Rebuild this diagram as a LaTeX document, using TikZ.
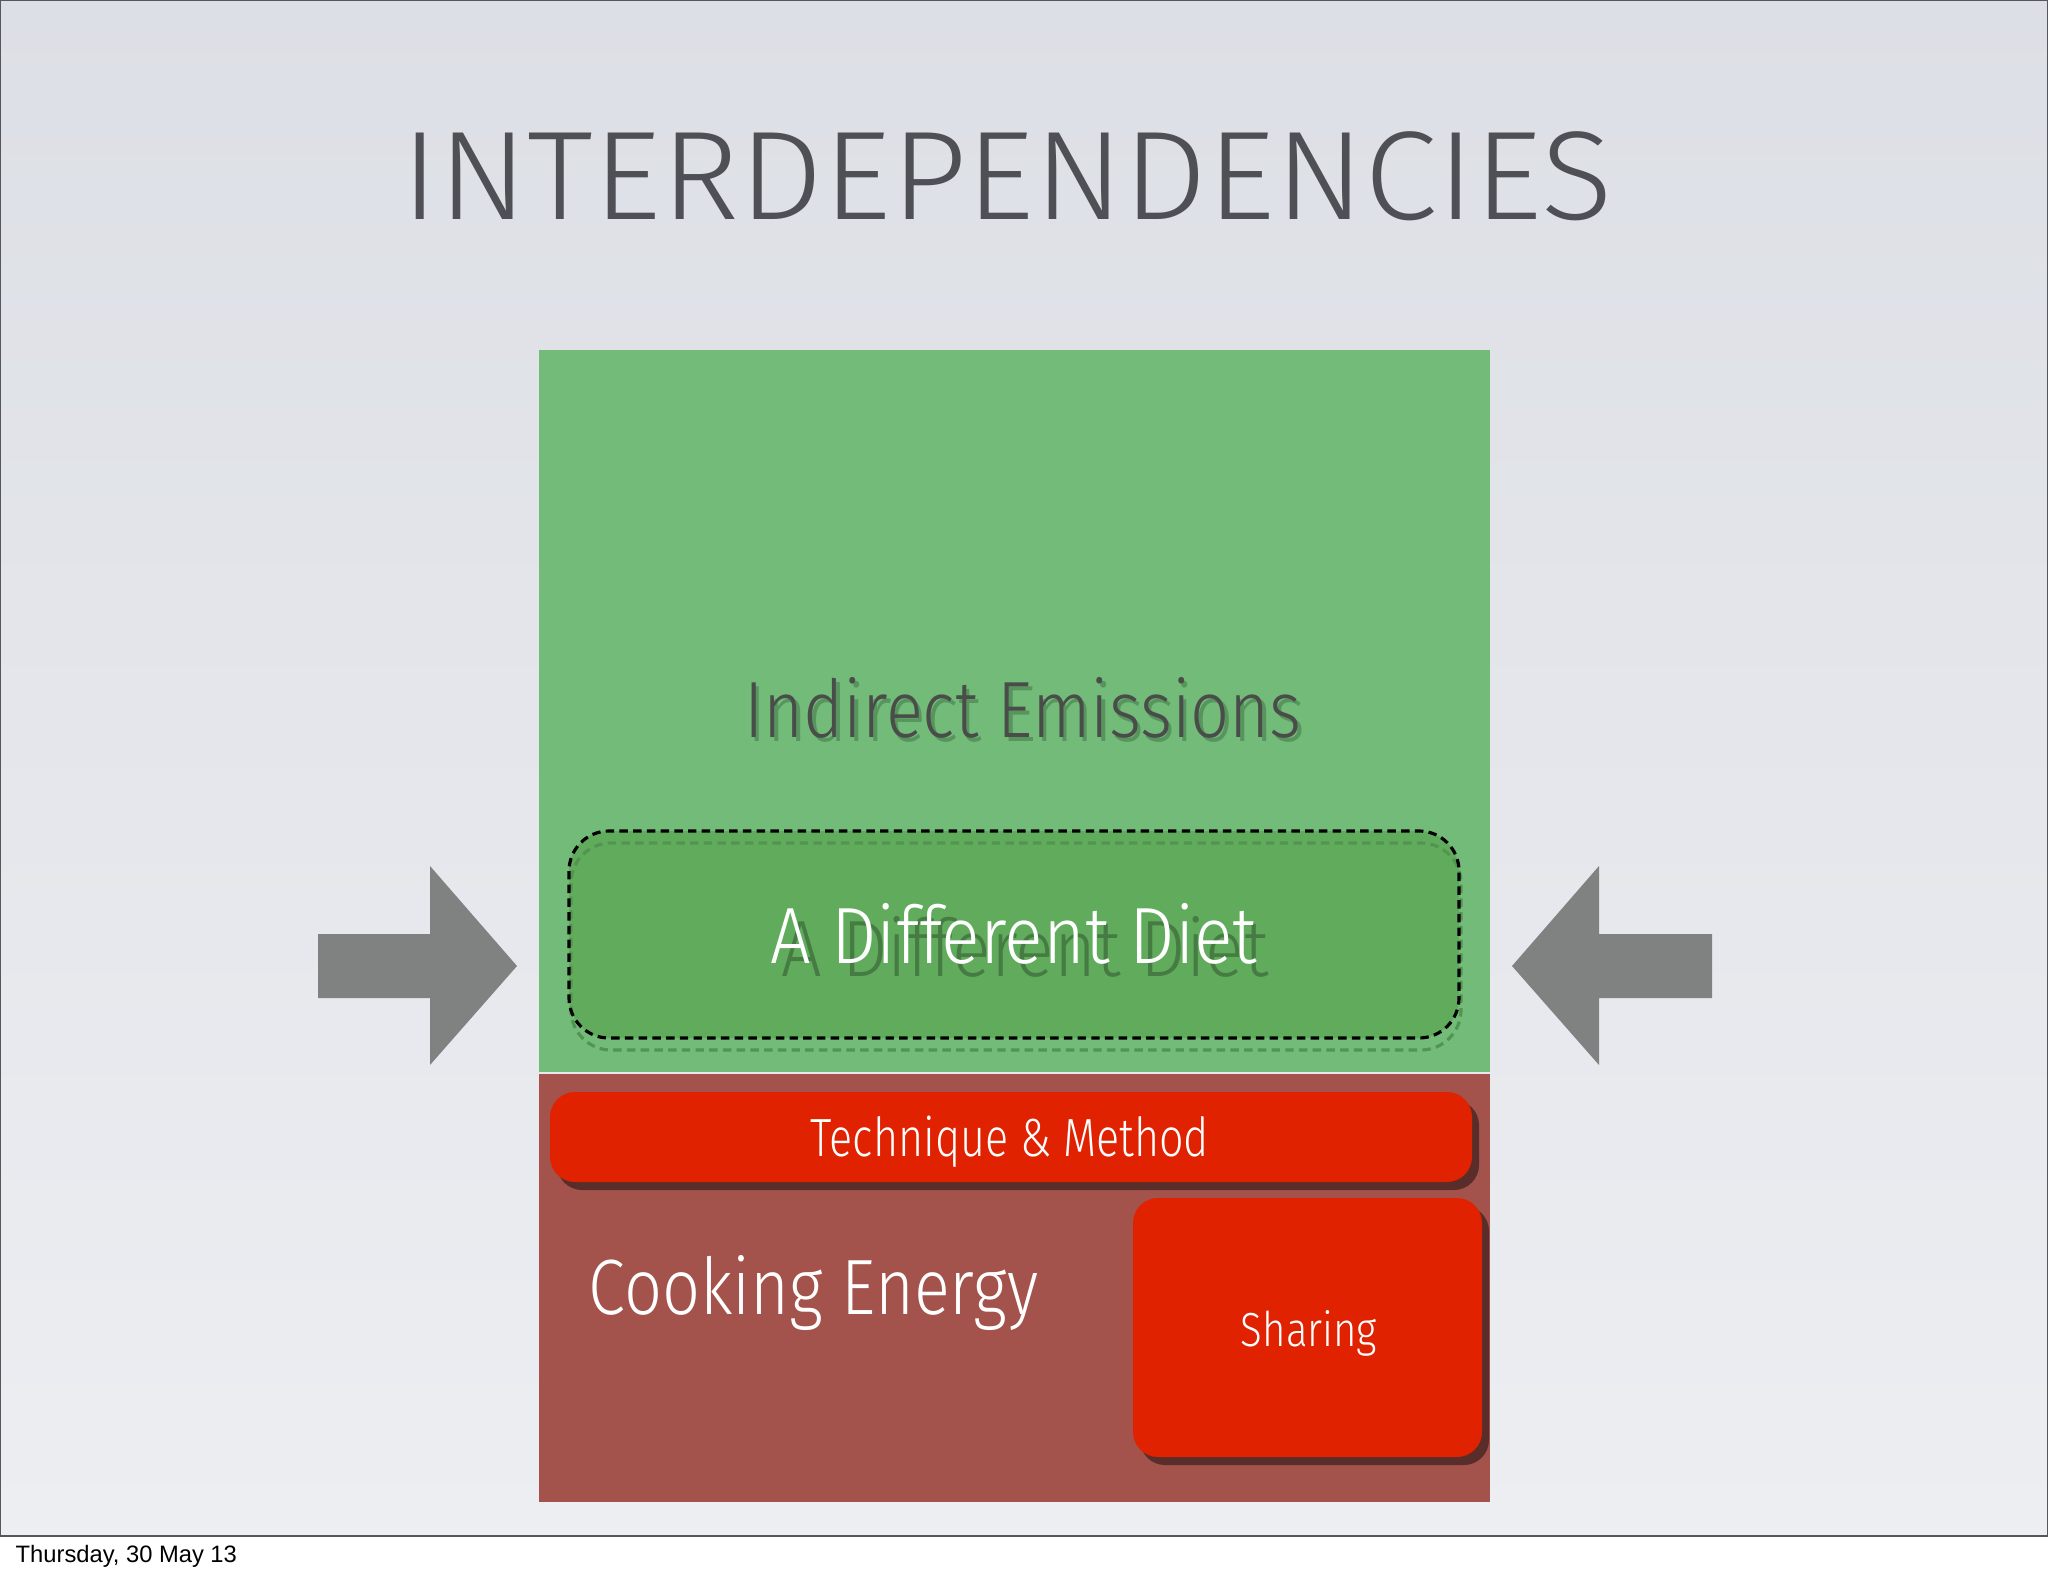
\documentclass[tikz,border=0pt]{standalone}
\usepackage{fontspec}
\setmainfont{Fira Sans Light}
\newfontfamily\datefont{Liberation Sans}
\usetikzlibrary{shadows}

\definecolor{slidetop}{RGB}{220,223,229}
\definecolor{slidebottom}{RGB}{237,238,242}
\definecolor{frameline}{RGB}{85,87,90}
\definecolor{titlegray}{RGB}{78,80,85}
\definecolor{leafgreen}{RGB}{114,187,120}
\definecolor{dietgreen}{RGB}{97,172,92}
\definecolor{dietshadow}{RGB}{70,124,68}
\definecolor{emisgray}{RGB}{74,76,74}
\definecolor{emisshadow}{RGB}{88,148,94}
\definecolor{brickred}{RGB}{163,83,75}
\definecolor{flamered}{RGB}{224,34,0}
\definecolor{arrowgray}{RGB}{128,130,129}

\newcommand{\pt}[1]{\fontsize{#1}{#1}\selectfont}
\newcommand{\squeeze}[2]{\scalebox{#1}[1]{#2}}
\newcommand{\castshadow}[4]{\leavevmode\rlap{\kern#2\raisebox{-#3}{\textcolor{#1}{#4}}}#4}

\begin{document}
\begin{tikzpicture}[x=0.01cm,y=-0.01cm,
  txt/.style={inner sep=0pt,anchor=base},
  redbox/.style={fill=flamered,rounded corners=0.25cm,
    drop shadow={shadow xshift=0.07cm,shadow yshift=-0.08cm,opacity=0.45,fill=black}}]
\useasboundingbox (0,0) rectangle (2048,1576);
\fill[white] (0,0) rectangle (2048,1576);
\shade[top color=slidetop,bottom color=slidebottom] (0,0) rectangle (2048,1536);
\draw[frameline,line width=0.8pt] (0,0) rectangle (2048,1536);

\node[txt,text=titlegray,font=\pt{35.9}] (title) at (1007,219) {\squeeze{1.05}{INTERDEPENDENCIES}};

% panels
\fill[leafgreen] (539,350) rectangle (1490,1072);
\fill[brickred] (539,1074) rectangle (1490,1502);

\node[txt,text=emisgray,font=\pt{22.7}] (emis) at (1023,737)
  {\squeeze{0.86}{\castshadow{emisshadow}{1.2pt}{1.2pt}{Indirect Emissions}}};

\fill[dietgreen,rounded corners=0.4cm] (569,831) rectangle (1459,1038);
\draw[dietshadow!50!dietgreen,line width=0.9pt,dash pattern=on 2.4pt off 1.5pt,rounded corners=0.4cm] (571,843) rectangle (1461,1050);
\draw[black,line width=0.9pt,dash pattern=on 2.4pt off 1.5pt,rounded corners=0.4cm] (569,831) rectangle (1459,1038);
\node[txt,text=white,font=\pt{22.7}] (diet) at (1014,963)
  {\squeeze{0.9}{\castshadow{dietshadow}{3.5pt}{3.8pt}{A Different Diet}}};

\fill[redbox] (550,1092) rectangle (1472,1182);
\node[txt,text=white,font=\pt{15.3}] (technique) at (1010,1156) {\squeeze{0.8}{Technique \& Method}};

\node[txt,anchor=base west,text=white,font=\pt{22.3}] (cooking) at (588,1314) {\squeeze{0.85}{Cooking Energy}};

\fill[redbox] (1133,1198) rectangle (1482,1457);
\node[txt,text=white,font=\pt{13.6}] (sharing) at (1309,1346) {\squeeze{0.84}{Sharing}};

% arrows
\fill[arrowgray] (318,934) -- (430,934) -- (430,866) -- (517,966) -- (430,1065) -- (430,998) -- (318,998) -- cycle;
\fill[arrowgray] (1712,934) -- (1599,934) -- (1599,866) -- (1512,966) -- (1599,1065) -- (1599,998) -- (1712,998) -- cycle;

\node[txt,anchor=base west,font=\datefont\pt{6.75}] (date) at (15,1562) {Thursday, 30 May 13};
\end{tikzpicture}
\end{document}
